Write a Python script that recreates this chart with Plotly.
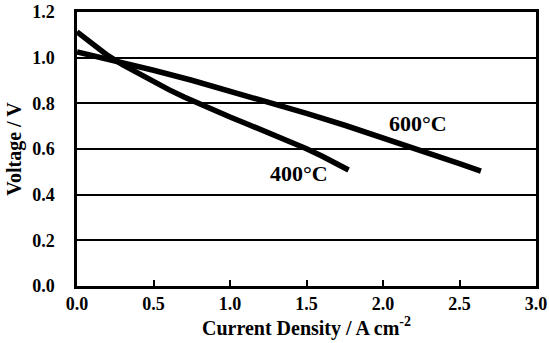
import plotly.graph_objects as go

# Current density (A cm-2) and voltage (V)
i_400 = [0.0, 0.1, 0.2, 0.3, 0.4, 0.5, 0.6, 0.7, 0.8, 0.9, 1.0, 1.1, 1.2, 1.3, 1.4, 1.5, 1.6, 1.7, 1.775]
v_400 = [1.113, 1.06, 1.01, 0.968, 0.93, 0.894, 0.86, 0.828, 0.797, 0.768, 0.74, 0.713, 0.686, 0.659, 0.631, 0.601, 0.569, 0.535, 0.508]

i_600 = [0.0, 0.25, 0.5, 0.75, 1.0, 1.25, 1.5, 1.75, 2.0, 2.25, 2.5, 2.64]
v_600 = [1.025, 0.988, 0.945, 0.901, 0.854, 0.806, 0.756, 0.704, 0.65, 0.594, 0.536, 0.503]

labels = ["400°C", "600°C"]
label_x = [1.453, 2.228]
label_y = [0.492, 0.711]

x_ticks = [0.0, 0.5, 1.0, 1.5, 2.0, 2.5, 3.0]
y_ticks = [0.0, 0.2, 0.4, 0.6, 0.8, 1.0, 1.2]

FONT = "Liberation Serif"

fig = go.Figure()
fig.add_trace(go.Scatter(x=i_400, y=v_400, mode="lines",
                         line=dict(color="black", width=5.5), showlegend=False))
fig.add_trace(go.Scatter(x=i_600, y=v_600, mode="lines",
                         line=dict(color="black", width=5.5), showlegend=False))

for t, x, y in zip(labels, label_x, label_y):
    fig.add_annotation(x=x, y=y, text="<b>%s</b>" % t, showarrow=False,
                       font=dict(family=FONT, size=22, color="black"))

fig.update_layout(
    width=549, height=343,
    margin=dict(l=77, r=13, t=12, b=57),
    paper_bgcolor="white", plot_bgcolor="white",
    font=dict(family=FONT, color="black"),
)
fig.update_xaxes(
    range=[0, 3.0], tickvals=x_ticks, automargin=False,
    ticktext=["<b>%.1f</b>" % v for v in x_ticks],
    tickfont=dict(family=FONT, size=18, color="black"),
    ticks="inside", ticklen=6, tickwidth=2, tickcolor="black",
    showline=True, linecolor="black", linewidth=2.5, mirror=True,
    showgrid=False, zeroline=False,
    title=dict(text="<b>Current Density / A cm<sup>-2</sup></b>",
               font=dict(family=FONT, size=20, color="black"), standoff=2),
)
fig.update_yaxes(
    range=[0, 1.2], tickvals=y_ticks, automargin=False,
    ticktext=["<b>%.1f</b>" % v for v in y_ticks],
    tickfont=dict(family=FONT, size=18, color="black"),
    ticks="", ticklabelstandoff=16,
    showline=True, linecolor="black", linewidth=2.5, mirror=True,
    showgrid=True, gridcolor="black", gridwidth=1.5, zeroline=False,
    title=dict(text="<b>Voltage / V</b>",
               font=dict(family=FONT, size=20, color="black"), standoff=6),
)

fig.write_html("out.html", config={"displayModeBar": False},
               post_script="document.body.style.margin='0px';document.body.style.overflow='hidden';")
